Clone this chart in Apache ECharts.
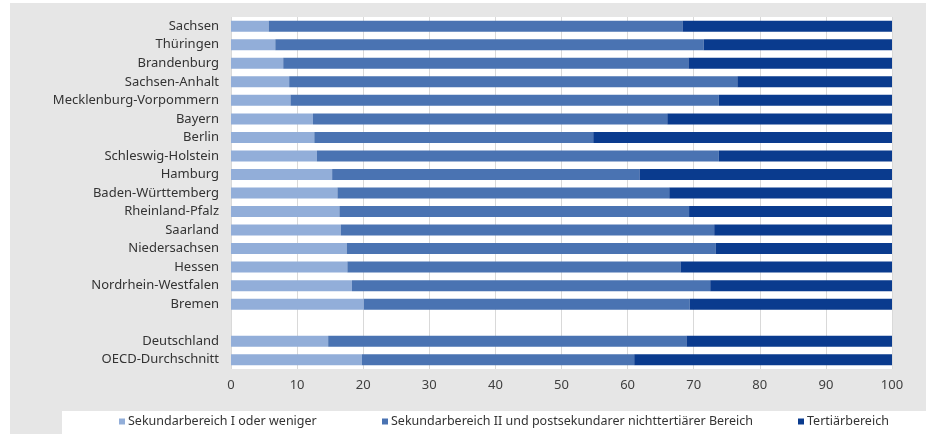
<!DOCTYPE html>
<html>
<head>
<meta charset="utf-8">
<script src="https://cdn.jsdelivr.net/npm/echarts@6/dist/echarts.min.js"></script>
<style>
html,body{margin:0;padding:0;background:#fff;}
#c{width:926px;height:434px;}
</style>
</head>
<body>
<div id="c"></div>
<script>
const categories = ["Sachsen","Thüringen","Brandenburg","Sachsen-Anhalt","Mecklenburg-Vorpommern","Bayern","Berlin","Schleswig-Holstein","Hamburg","Baden-Württemberg","Rheinland-Pfalz","Saarland","Niedersachsen","Hessen","Nordrhein-Westfalen","Bremen","","Deutschland","OECD-Durchschnitt"];
const seriesNames = ["Sekundarbereich I oder weniger","Sekundarbereich II und postsekundarer nichttertiärer Bereich","Tertiärbereich"];
const sek1 = [5.7,6.7,7.9,8.8,9.0,12.4,12.6,13.0,15.3,16.1,16.4,16.6,17.5,17.6,18.3,20.1,null,14.7,19.8];
const sek2 = [62.6,64.8,61.3,67.8,64.8,53.6,42.2,60.8,46.5,50.2,52.9,56.5,55.8,50.4,54.2,49.3,null,54.2,41.2];
const tert = [31.7,28.5,30.8,23.4,26.2,34.0,45.2,26.2,38.2,33.7,30.7,26.9,26.7,32.0,27.5,30.6,null,31.1,39.0];
const xTicks = [0,10,20,30,40,50,60,70,80,90,100];

const colors = ['#92AED9','#4A73B2','#0A3B8E'];
const font = 'Noto Sans';
const chart = echarts.init(document.getElementById('c'), null, {renderer:'canvas'});
const values = [sek1, sek2, tert];
chart.setOption({
  animation:false,
  backgroundColor:'#ffffff',
  graphic:[
    {type:'rect', z:-10, shape:{x:10,y:3,width:916,height:431}, style:{fill:'#e6e6e6'}},
    {type:'rect', z:-9, shape:{x:62,y:411,width:864,height:23}, style:{fill:'#ffffff'}}
  ],
  grid:{left:231,top:17,width:661,height:352,show:true,backgroundColor:'#ffffff',borderWidth:0,containLabel:false},
  xAxis:{type:'value',min:xTicks[0],max:xTicks[xTicks.length-1],interval:10,
    axisLine:{show:false},axisTick:{show:false},
    splitLine:{show:true,lineStyle:{color:'#d9d9d9',width:1}},
    axisLabel:{color:'#404040',fontFamily:font,fontSize:13,margin:10}},
  yAxis:{type:'category',data:categories,inverse:true,
    axisLine:{show:false},axisTick:{show:false},splitLine:{show:false},
    axisLabel:{color:'#333333',fontFamily:font,fontSize:13,margin:12}},
  legend: seriesNames.map((n,i)=>({
    data:[n], top:415, left:[119,382,798][i], itemWidth:6, itemHeight:6, itemGap:0,
    icon:'rect', padding:0,
    textStyle:{color:'#333333',fontFamily:font,fontSize:12.5,padding:[0,0,0,-2]}
  })),
  series: seriesNames.map((n,i)=>({
    name:n, type:'bar', stack:'a', data:values[i], barWidth:11,
    itemStyle:{color:colors[i]}
  }))
});
</script>
</body>
</html>
